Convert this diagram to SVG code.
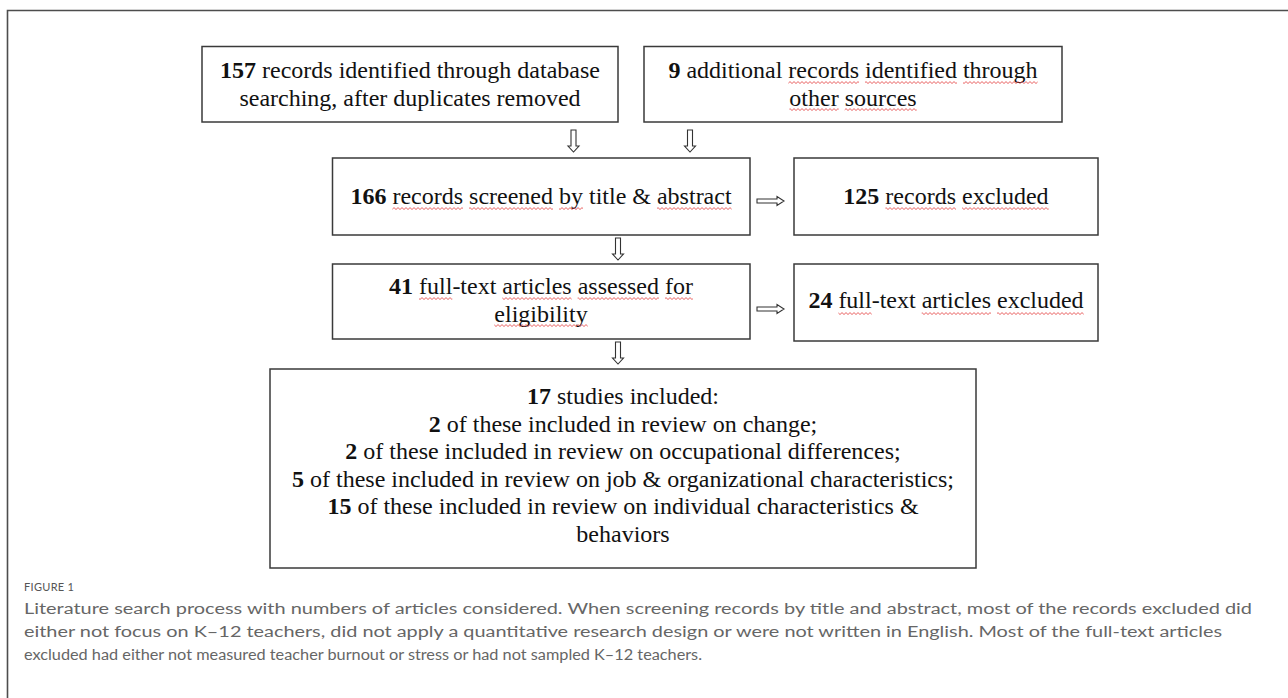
<svg xmlns="http://www.w3.org/2000/svg" width="1288" height="698" viewBox="0 0 1288 698">
<style>
.box{fill:#fff;stroke:#3a3a3a;stroke-width:1.5}
.t{font-family:"Liberation Serif","Times New Roman",serif;font-size:24px;fill:#111;text-anchor:middle}
.b{font-weight:bold}
.arr{fill:#fff;stroke:#333;stroke-width:1.1;stroke-linejoin:miter}
.sq{fill:url(#wave)}
.cap{font-family:Lato,"Open Sans","Liberation Sans",sans-serif;font-size:15.5px;fill:#666}
.lab{font-family:Lato,"Open Sans","Liberation Sans",sans-serif;font-size:11px;fill:#555;letter-spacing:0.3px}
</style>
<defs>
<pattern id="wave" width="4" height="3" patternUnits="userSpaceOnUse">
<path d="M0 2.5 L2 0.6 L4 2.5" fill="none" stroke="#e23b3b" stroke-width="0.8"/>
</pattern>
<polygon id="down" points="-2.5,0 2.5,0 2.5,16 5.5,16 0,22 -5.5,16 -2.5,16"/>
<polygon id="right" points="0,-2 20,-2 20,-4.5 27,0 20,4.5 20,2 0,2"/>
</defs>
<rect x="0" y="0" width="1288" height="698" fill="#fff"/>
<path d="M7.5 698 V10.5 H1288" fill="none" stroke="#4d4d4d" stroke-width="1.6"/>

<g id="connectors">
<use href="#down" class="arr" x="573.5" y="130"/>
<use href="#down" class="arr" x="690" y="130"/>
<use href="#down" class="arr" x="618" y="238"/>
<use href="#down" class="arr" x="618" y="342"/>
<use href="#right" class="arr" x="757" y="201"/>
<use href="#right" class="arr" x="757" y="309"/>
</g>

<g id="n1">
<rect class="box" x="202" y="46.5" width="416" height="75.5"/>
<text class="t" x="410" y="78"><tspan class="b">157</tspan> records identified through database</text>
<text class="t" x="410" y="105.6">searching, after duplicates removed</text>
</g>

<g id="n2">
<rect class="box" x="644" y="46.5" width="418" height="75.5"/>
<text class="t" x="853" y="78"><tspan class="b">9</tspan> additional records identified through</text>
<text class="t" x="853" y="105.6">other sources</text>
<rect class="sq" x="788.4" y="81" width="70.6" height="3"/>
<rect class="sq" x="865" y="81" width="92" height="3"/>
<rect class="sq" x="963" y="81" width="74.6" height="3"/>
<rect class="sq" x="789.4" y="108" width="49.3" height="3"/>
<rect class="sq" x="844.7" y="108" width="72" height="3"/>
</g>

<g id="n3">
<rect class="box" x="332.5" y="158" width="417.5" height="77"/>
<text class="t" x="541" y="204"><tspan class="b">166</tspan> records screened by title &amp; abstract</text>
<rect class="sq" x="392.4" y="207" width="70.6" height="3"/>
<rect class="sq" x="469" y="207" width="84" height="3"/>
<rect class="sq" x="559" y="207" width="24" height="3"/>
<rect class="sq" x="657" y="207" width="74.6" height="3"/>
</g>

<g id="n4">
<rect class="box" x="794" y="158" width="304" height="77"/>
<text class="t" x="946" y="204"><tspan class="b">125</tspan> records excluded</text>
<rect class="sq" x="885.4" y="207" width="70.6" height="3"/>
<rect class="sq" x="962" y="207" width="86.7" height="3"/>
</g>

<g id="n5">
<rect class="box" x="332.5" y="264" width="417.5" height="75"/>
<text class="t" x="541" y="294"><tspan class="b">41</tspan> full-text articles assessed for</text>
<text class="t" x="541" y="321.6">eligibility</text>
<rect class="sq" x="419" y="297" width="33.3" height="3"/>
<rect class="sq" x="502.3" y="297" width="69.3" height="3"/>
<rect class="sq" x="577.6" y="297" width="81.3" height="3"/>
<rect class="sq" x="665" y="297" width="27.9" height="3"/>
<rect class="sq" x="494.3" y="324" width="93.4" height="3"/>
</g>

<g id="n6">
<rect class="box" x="794" y="264" width="304" height="77"/>
<text class="t" x="946" y="308"><tspan class="b">24</tspan> full-text articles excluded</text>
<rect class="sq" x="838.4" y="312" width="33.3" height="3"/>
<rect class="sq" x="921.7" y="312" width="69.3" height="3"/>
<rect class="sq" x="997" y="312" width="86.7" height="3"/>
</g>

<g id="n7">
<rect class="box" x="270" y="369" width="706" height="199"/>
<text class="t" x="623" y="404"><tspan class="b">17</tspan> studies included:</text>
<text class="t" x="623" y="431.6"><tspan class="b">2</tspan> of these included in review on change;</text>
<text class="t" x="623" y="459.2"><tspan class="b">2</tspan> of these included in review on occupational differences;</text>
<text class="t" x="623" y="486.8"><tspan class="b">5</tspan> of these included in review on job &amp; organizational characteristics;</text>
<text class="t" x="623" y="514.4"><tspan class="b">15</tspan> of these included in review on individual characteristics &amp;</text>
<text class="t" x="623" y="542">behaviors</text>
</g>

<g id="caption">
<text class="lab" x="24" y="591">FIGURE 1</text>
<text class="cap" x="24" y="614" textLength="1228" lengthAdjust="spacingAndGlyphs">Literature search process with numbers of articles considered. When screening records by title and abstract, most of the records excluded did</text>
<text class="cap" x="24" y="637" textLength="1198" lengthAdjust="spacingAndGlyphs">either not focus on K–12 teachers, did not apply a quantitative research design or were not written in English. Most of the full-text articles</text>
<text class="cap" x="24" y="660" textLength="678" lengthAdjust="spacingAndGlyphs">excluded had either not measured teacher burnout or stress or had not sampled K–12 teachers.</text>
</g>
</svg>
